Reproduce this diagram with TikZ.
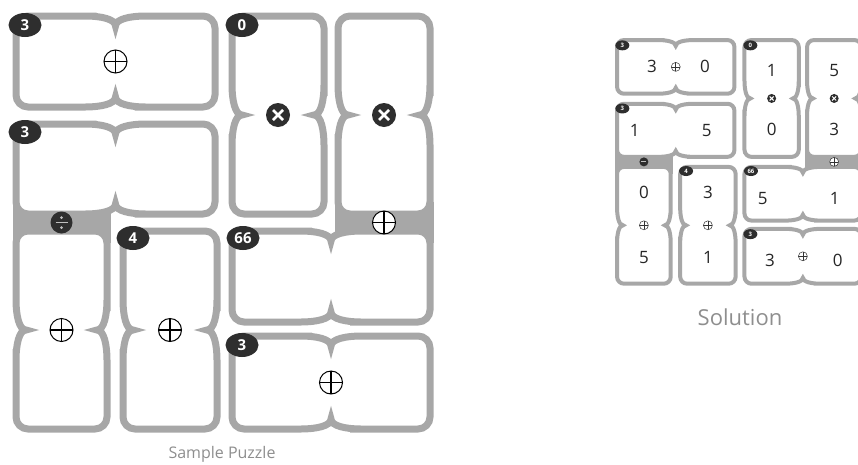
\documentclass[tikz,border=0pt]{standalone}
\usepackage{fontspec}
\setmainfont{Open Sans}
\usepackage{tikz}
\usetikzlibrary{shapes.geometric,calc}
\definecolor{tilegray}{HTML}{A7A7A7}
\definecolor{opdark}{HTML}{2E2E2E}
\definecolor{labelgray}{HTML}{8E8E8E}
\newcommand{\tilespread}{30}
\newcommand{\tiledepth}{10}
\newcommand{\tilerad}{12pt}
% horizontal domino: style, x1, y1, x2, y2
\newcommand{\domh}[5]{%
  \pgfmathsetmacro\xm{(#2+#4)/2}
  \pgfmathsetmacro\ym{(#3+#5)/2}
  \draw[#1] (#2,\ym) [rounded corners=\tilerad] -- (#2,#3) -- (\xm-\tilespread-1,#3)
    [sharp corners] -- (\xm-\tilespread,#3)
    .. controls (\xm-0.5*\tilespread,#3) and (\xm,#3+0.3*\tiledepth) .. (\xm,#3+\tiledepth)
    .. controls (\xm,#3+0.3*\tiledepth) and (\xm+0.5*\tilespread,#3) .. (\xm+\tilespread,#3)
    -- (\xm+\tilespread+1,#3) [rounded corners=\tilerad] -- (#4,#3) -- (#4,#5)
    -- (\xm+\tilespread+1,#5) [sharp corners] -- (\xm+\tilespread,#5)
    .. controls (\xm+0.5*\tilespread,#5) and (\xm,#5-0.3*\tiledepth) .. (\xm,#5-\tiledepth)
    .. controls (\xm,#5-0.3*\tiledepth) and (\xm-0.5*\tilespread,#5) .. (\xm-\tilespread,#5)
    -- (\xm-\tilespread-1,#5) [rounded corners=\tilerad] -- (#2,#5) -- cycle;
}
% vertical domino: style, x1, y1, x2, y2
\newcommand{\domv}[5]{%
  \pgfmathsetmacro\xm{(#2+#4)/2}
  \pgfmathsetmacro\ym{(#3+#5)/2}
  \draw[#1] (\xm,#3) [rounded corners=\tilerad] -- (#4,#3) -- (#4,\ym-\tilespread-1)
    [sharp corners] -- (#4,\ym-\tilespread)
    .. controls (#4,\ym-0.5*\tilespread) and (#4-0.3*\tiledepth,\ym) .. (#4-\tiledepth,\ym)
    .. controls (#4-0.3*\tiledepth,\ym) and (#4,\ym+0.5*\tilespread) .. (#4,\ym+\tilespread)
    -- (#4,\ym+\tilespread+1) [rounded corners=\tilerad] -- (#4,#5) -- (#2,#5)
    -- (#2,\ym+\tilespread+1) [sharp corners] -- (#2,\ym+\tilespread)
    .. controls (#2,\ym+0.5*\tilespread) and (#2+0.3*\tiledepth,\ym) .. (#2+\tiledepth,\ym)
    .. controls (#2+0.3*\tiledepth,\ym) and (#2,\ym-0.5*\tilespread) .. (#2,\ym-\tilespread)
    -- (#2,\ym-\tilespread-1) [rounded corners=\tilerad] -- (#2,#3) -- cycle;
}
% the whole board of eight dominoes, in sample coordinates
\newcommand{\board}[2]{%
  \renewcommand{\tilerad}{#2}
  \fill[tilegray] (12.5,202) rectangle (110.5,243);
  \fill[tilegray] (334.5,202) rectangle (433.5,243);
  \foreach \xa/\ya/\xb/\yb/\dir in {16/16/215/107/h,16/124/215/214/h,
      232/16/324/214/v,338/16/430/214/v,16/231/107/429/v,123/231/217/429/v,
      232/231/430/322/h,232/336/430/429/h}{
    \if\dir h\domh{#1}{\xa}{\ya}{\xb}{\yb}\else\domv{#1}{\xa}{\ya}{\xb}{\yb}\fi
  }
}
\tikzset{
  tilebig/.style={draw=tilegray,fill=white,line width=7pt},
  tilesmall/.style={draw=tilegray,fill=white,line width=4pt},
  badge/.style={ellipse,fill=opdark,text=white,inner sep=0pt,
                minimum width=33pt,minimum height=24pt,
                font=\bfseries\fontsize{15}{15}\selectfont},
  badgesmall/.style={ellipse,fill=opdark,text=white,inner sep=0pt,
                minimum width=14pt,minimum height=10pt,
                font=\bfseries\fontsize{6}{6}\selectfont},
  opplus/.style={circle,draw=black,fill=white,line width=1pt,inner sep=0pt,
    minimum size=23pt,path picture={
    \draw[line width=1.5pt] (path picture bounding box.north)--(path picture bounding box.south)
      (path picture bounding box.west)--(path picture bounding box.east);}},
  optimes/.style={circle,fill=opdark,inner sep=0pt,minimum size=24pt,path picture={
    \draw[white,line width=2.6pt]
      ($(path picture bounding box.center)+(-5,-5)$)--($(path picture bounding box.center)+(5,5)$)
      ($(path picture bounding box.center)+(-5,5)$)--($(path picture bounding box.center)+(5,-5)$);}},
  opdiv/.style={circle,fill=opdark,inner sep=0pt,minimum size=22pt,path picture={
    \draw[black!25,line width=1.6pt]
      ($(path picture bounding box.center)+(-6,0)$)--($(path picture bounding box.center)+(6,0)$);
    \fill[black!25] ($(path picture bounding box.center)+(0,-5)$) circle (1.5)
      ($(path picture bounding box.center)+(0,5)$) circle (1.5);}},
  opplussmall/.style={circle,draw=black!80,fill=white,line width=0.5pt,inner sep=0pt,
    minimum size=9pt,path picture={
    \draw[line width=0.7pt] (path picture bounding box.north)--(path picture bounding box.south)
      (path picture bounding box.west)--(path picture bounding box.east);}},
  optimessmall/.style={circle,fill=opdark,inner sep=0pt,minimum size=9pt,path picture={
    \draw[white,line width=1pt]
      ($(path picture bounding box.center)+(-2,-2)$)--($(path picture bounding box.center)+(2,2)$)
      ($(path picture bounding box.center)+(-2,2)$)--($(path picture bounding box.center)+(2,-2)$);}},
  opdivsmall/.style={circle,fill=opdark,inner sep=0pt,minimum size=9pt,path picture={
    \draw[black!25,line width=0.8pt]
      ($(path picture bounding box.center)+(-2.5,0)$)--($(path picture bounding box.center)+(2.5,0)$);}},
  digit/.style={inner sep=0pt,text=black!85,font=\fontsize{17}{17}\selectfont},
  caption/.style={inner sep=0pt,text=labelgray},
}
\begin{document}
\begin{tikzpicture}[x=1pt,y=-1pt]
  \useasboundingbox (0,0) rectangle (858,464);
  \clip (0,0) rectangle (858,464);

  % Sample puzzle
  \board{tilebig}{12pt}
  \foreach \bx/\by/\lbl/\nm in {25/25/3/a,25/132/3/b,242/25/0/c,
      133/238/4/f,243/238/66/g,242/345/3/h}{
    \node[badge] (badge-\nm) at (\bx,\by) {\lbl};
  }
  \node[opplus]  (op-a) at (115.5,61.5) {};
  \node[optimes] (op-c) at (278,115) {};
  \node[optimes] (op-d) at (384,115) {};
  \node[opdiv]   (op-be) at (61.5,222.5) {};
  \node[opplus]  (op-dg) at (384,222.5) {};
  \node[opplus]  (op-e) at (61.5,330) {};
  \node[opplus]  (op-f) at (170,330) {};
  \node[opplus]  (op-h) at (331,382.5) {};
  \node[caption,font=\fontsize{16}{16}\selectfont] (cap-sample) at (222,454) {Sample Puzzle};

  % Solution: same board, scaled down
  \begin{scope}[shift={(607.6,30.6)},scale=0.59]
    \board{tilesmall}{7pt}
    \foreach \bx/\by/\lbl/\nm in {25/25/3/a,25/132/3/b,242/25/0/c,
        133/238/4/f,243/238/66/g,242/345/3/h}{
      \node[badgesmall] (sbadge-\nm) at (\bx,\by) {\lbl};
    }
    \node[opplussmall]  (sop-a) at (115.5,61.5) {};
    \node[optimessmall] (sop-c) at (278,115) {};
    \node[optimessmall] (sop-d) at (384,115) {};
    \node[opdivsmall]   (sop-be) at (61.5,222.5) {};
    \node[opplussmall]  (sop-dg) at (384,222.5) {};
    \node[opplussmall]  (sop-e) at (61.5,330) {};
    \node[opplussmall]  (sop-f) at (170,330) {};
    \node[opplussmall]  (sop-h) at (331,382.5) {};
    \foreach \dx/\dy/\val/\nm in {75/61.5/3/a1,165/61.5/0/a2,46/169/1/b1,168/169/5/b2,
        278/68/1/c1,278/168/0/c2,384/68/5/d1,384/168/3/d2,
        61.5/275/0/e1,61.5/384/5/e2,170/275/3/f1,170/384/1/f2,
        263/284/5/g1,385/284/1/g2,275/389/3/h1,390/389/0/h2}{
      \node[digit] (num-\nm) at (\dx,\dy) {\val};
    }
  \end{scope}
  \node[caption,font=\fontsize{22}{22}\selectfont] (cap-solution) at (740,317) {Solution};
\end{tikzpicture}
\end{document}
